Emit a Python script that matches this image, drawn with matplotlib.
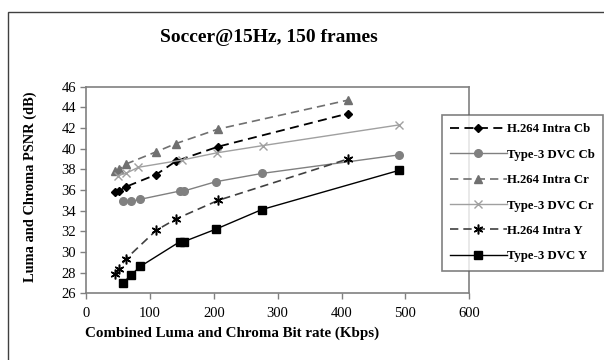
import matplotlib
matplotlib.use("Agg")
import matplotlib.pyplot as plt
from matplotlib.patches import Rectangle

# Data
h264_x = [45, 52, 62, 110, 141, 207, 410]
h264_cb = [35.8, 35.9, 36.3, 37.5, 38.8, 40.2, 43.4]
h264_cr = [37.8, 38.0, 38.5, 39.7, 40.5, 41.9, 44.7]
h264_y = [27.9, 28.4, 29.3, 32.1, 33.2, 35.0, 39.0]

dvc_x = [58, 71, 85, 147, 153, 203, 275, 490]
dvc_cb = [34.9, 34.9, 35.1, 35.9, 35.9, 36.8, 37.6, 39.4]
dvc_y = [27.0, 27.8, 28.6, 31.0, 31.0, 32.2, 34.1, 37.9]

dvc_cr_x = [50, 62, 82, 150, 205, 277, 490]
dvc_cr = [37.4, 37.6, 38.2, 38.9, 39.6, 40.3, 42.3]

labels = ["H.264 Intra Cb", "Type-3 DVC Cb", "H.264 Intra Cr",
          "Type-3 DVC Cr", "H.264 Intra Y", "Type-3 DVC Y"]
xticks = [0, 100, 200, 300, 400, 500, 600]
yticks = [26, 28, 30, 32, 34, 36, 38, 40, 42, 44, 46]

plt.rcParams['font.family'] = ['Liberation Serif', 'DejaVu Serif']

fig = plt.figure(figsize=(6.04, 3.6), dpi=100)
ax = fig.add_axes([86/604, 1-293.3/360, (469.3-86)/604, (293.3-86.7)/360])

dash = (0, (5, 3))
ax.plot(h264_x, h264_cb, color='black', linestyle=dash, linewidth=1.3,
        marker='D', markersize=4.5, label=labels[0])
ax.plot(dvc_x, dvc_cb, color='#808080', linestyle='-', linewidth=1.0,
        marker='o', markersize=5.5, label=labels[1])
ax.plot(h264_x, h264_cr, color='#707070', linestyle=dash, linewidth=1.2,
        marker='^', markersize=6, label=labels[2])
ax.plot(dvc_cr_x, dvc_cr, color='#a0a0a0', linestyle='-', linewidth=1.0,
        marker='x', markersize=6, markeredgewidth=1.0, label=labels[3])
ax.plot(h264_x, h264_y, color='#404040', linestyle=dash, linewidth=1.2,
        marker=(6, 2, 0), markersize=7, markeredgewidth=1.1,
        markeredgecolor='black', label=labels[4])
ax.plot(dvc_x, dvc_y, color='black', linestyle='-', linewidth=1.0,
        marker='s', markersize=6, label=labels[5])

ax.set_xlim(0, 600)
ax.set_ylim(26, 46)
ax.set_xticks(xticks)
ax.set_yticks(yticks)
ax.tick_params(direction='out', length=4, width=1, color='#808080',
               labelsize=10.5)
ax.tick_params(axis='x', pad=6)
ax.tick_params(axis='y', pad=3)
for s in ax.spines.values():
    s.set_color('#808080')
    s.set_linewidth(1.2)

fig.text(232/604, 1-333/360, "Combined Luma and Chroma Bit rate (Kbps)",
         ha='center', va='center', fontsize=10.8, fontweight='bold')
fig.text(30/604, 1-187/360, "Luma and Chroma PSNR (dB)", ha='center',
         va='center', rotation=90, fontsize=10.4, fontweight='bold')

fig.text(269/604, 1-37/360, "Soccer@15Hz, 150 frames", ha='center',
         va='center', fontsize=14, fontweight='bold')

# outer chart border
fig.patches.append(Rectangle((8/604, -0.05), 1.2, 1-12/360+0.05,
                             transform=fig.transFigure, fill=False,
                             edgecolor='#404040', linewidth=1.0))

leg = fig.legend(loc='upper left', bbox_to_anchor=(442/604, 1-115/360),
                 frameon=True, fancybox=False,
                 prop={'weight': 'bold', 'size': 9.2},
                 handlelength=4.4, handletextpad=0.05, labelspacing=1.05,
                 borderpad=0.65, borderaxespad=0)
leg.get_frame().set_edgecolor('#606060')
leg.get_frame().set_linewidth(1.2)

fig.savefig("out.png", dpi=100)
